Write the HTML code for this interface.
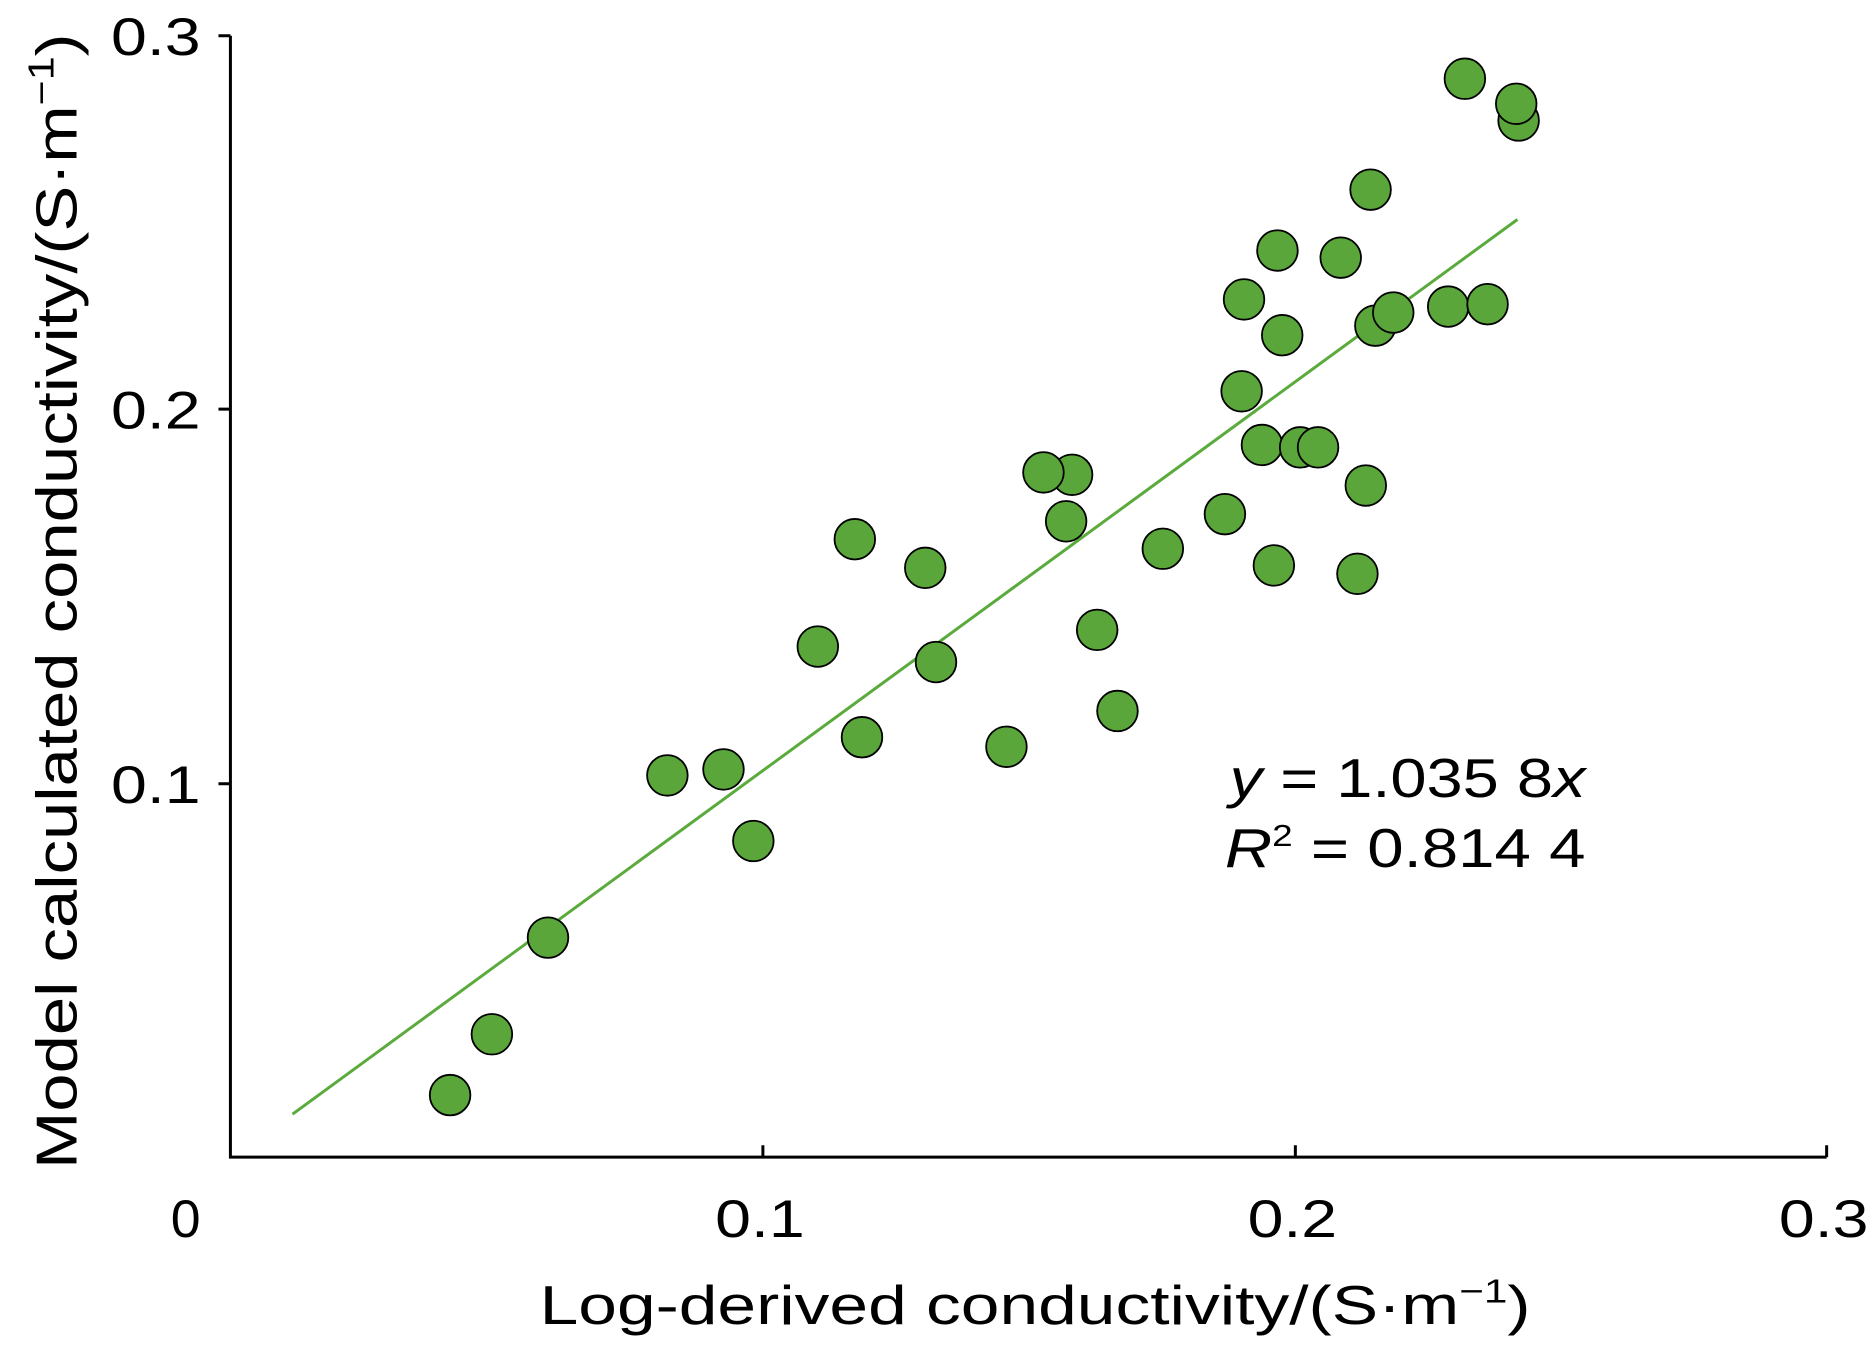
<!DOCTYPE html>
<html><head><style>html,body{margin:0;padding:0;background:#fff}svg{display:block}</style></head>
<body>
<svg width="1872" height="1348" viewBox="0 0 1568 1130" preserveAspectRatio="none" xmlns="http://www.w3.org/2000/svg" font-family="Liberation Sans, Arial, sans-serif">
<g stroke="#000" stroke-width="2.5" fill="none">
<path d="M193 30 V970 H1530"/>
<path d="M183 30 H193 M183 343 H193 M183 657 H193"/>
<path d="M639 970 V960 M1085 970 V960 M1530 970 V960"/>
</g>
<g font-size="44" fill="#000">
<text x="93" y="46" textLength="75" lengthAdjust="spacingAndGlyphs">0.3</text>
<text x="93" y="359" textLength="75" lengthAdjust="spacingAndGlyphs">0.2</text>
<text x="93" y="673" textLength="75" lengthAdjust="spacingAndGlyphs">0.1</text>
<text x="143" y="1037" textLength="25" lengthAdjust="spacingAndGlyphs">0</text>
<text x="599" y="1037" textLength="75" lengthAdjust="spacingAndGlyphs">0.1</text>
<text x="1045" y="1037" textLength="75" lengthAdjust="spacingAndGlyphs">0.2</text>
<text x="1490" y="1037" textLength="75" lengthAdjust="spacingAndGlyphs">0.3</text>
</g>
<text x="452" y="1110" font-size="46" textLength="830" lengthAdjust="spacingAndGlyphs">Log-derived conductivity/(S·m<tspan font-size="28" dy="-18">−1</tspan><tspan dy="18">)</tspan></text>
<text transform="translate(64,980) rotate(-90)" font-size="48" textLength="952" lengthAdjust="spacingAndGlyphs">Model calculated conductivity/(S·m<tspan font-size="30" dy="-19">−1</tspan><tspan dy="19">)</tspan></text>
<line x1="245" y1="934" x2="1271" y2="184" stroke="#5aaa3c" stroke-width="2.5"/>
<g fill="#5aa63a" stroke="#000" stroke-width="1.5">
<circle cx="377" cy="918" r="17"/><circle cx="412" cy="867" r="17"/><circle cx="459" cy="786" r="17"/>
<circle cx="559" cy="650" r="17"/><circle cx="606" cy="645" r="17"/><circle cx="631" cy="705" r="17"/>
<circle cx="685" cy="542" r="17"/><circle cx="716" cy="452" r="17"/><circle cx="722" cy="618" r="17"/>
<circle cx="775" cy="476" r="17"/><circle cx="784" cy="555" r="17"/><circle cx="843" cy="626" r="17"/>
<circle cx="898" cy="398" r="17"/><circle cx="874" cy="396" r="17"/><circle cx="893" cy="437" r="17"/>
<circle cx="919" cy="528" r="17"/><circle cx="936" cy="596" r="17"/><circle cx="974" cy="460" r="17"/>
<circle cx="1026" cy="431" r="17"/><circle cx="1040" cy="328" r="17"/><circle cx="1042" cy="251" r="17"/>
<circle cx="1070" cy="210" r="17"/><circle cx="1074" cy="281" r="17"/><circle cx="1057" cy="373" r="17"/>
<circle cx="1067" cy="474" r="17"/><circle cx="1089" cy="375" r="17"/><circle cx="1104" cy="375" r="17"/>
<circle cx="1123" cy="216" r="17"/><circle cx="1148" cy="159" r="17"/><circle cx="1144" cy="407" r="17"/>
<circle cx="1137" cy="481" r="17"/><circle cx="1152" cy="273" r="17"/><circle cx="1167" cy="262" r="17"/>
<circle cx="1213" cy="257" r="17"/><circle cx="1246" cy="255" r="17"/><circle cx="1227" cy="66" r="17"/>
<circle cx="1272" cy="101" r="17"/><circle cx="1270" cy="87" r="17"/>
</g>
<g font-size="46" fill="#000">
<text x="1030" y="668" textLength="298" lengthAdjust="spacingAndGlyphs"><tspan font-style="italic">y</tspan> = 1.035 8<tspan font-style="italic">x</tspan></text>
<text x="1026" y="727" textLength="302" lengthAdjust="spacingAndGlyphs"><tspan font-style="italic">R</tspan><tspan font-size="26" dy="-18">2</tspan><tspan dy="18"> = 0.814 4</tspan></text>
</g>
</svg>
</body></html>
